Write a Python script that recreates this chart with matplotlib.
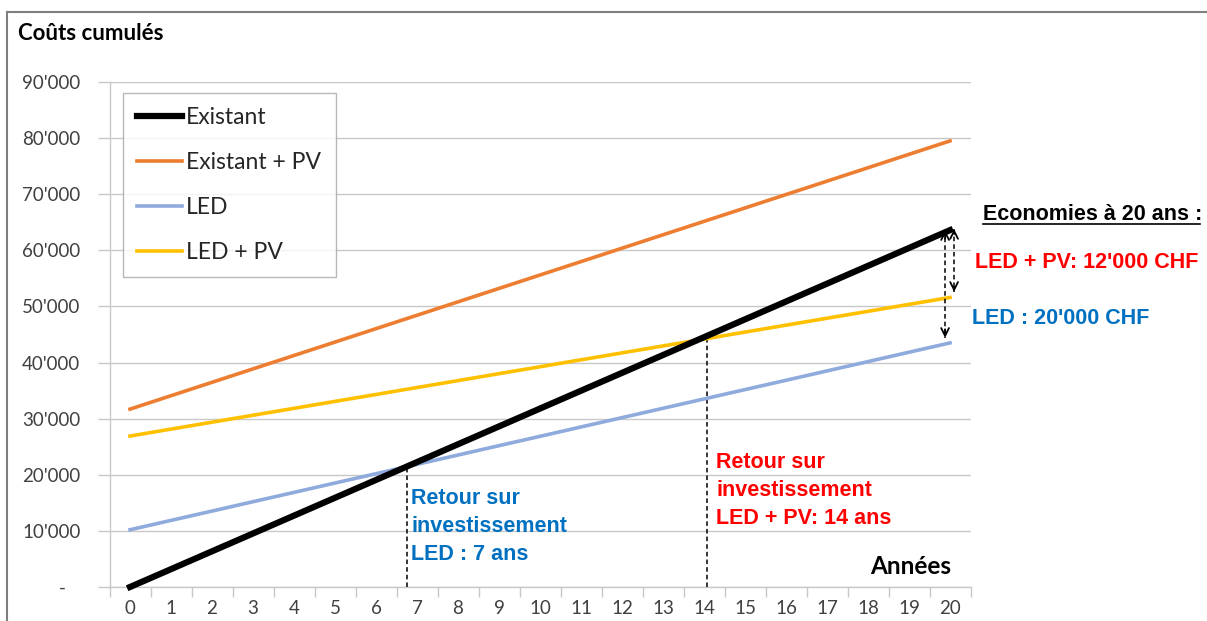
import matplotlib.pyplot as plt
from matplotlib.lines import Line2D

years = list(range(21))
existant = [0, 3180, 6360, 9540, 12720, 15900, 19080, 22260, 25440, 28620, 31800,
            34980, 38160, 41340, 44520, 47700, 50880, 54060, 57240, 60420, 63600]
existant_pv = [31700, 34090, 36480, 38870, 41260, 43650, 46040, 48430, 50820, 53210, 55600,
               57990, 60380, 62770, 65160, 67550, 69940, 72330, 74720, 77110, 79500]
led = [10200, 11870, 13530, 15200, 16860, 18530, 20190, 21860, 23520, 25190, 26850,
       28520, 30180, 31850, 33510, 35180, 36840, 38510, 40170, 41840, 43500]
led_pv = [26900, 28140, 29370, 30610, 31840, 33080, 34310, 35550, 36780, 38020, 39250,
          40490, 41720, 42960, 44190, 45430, 46660, 47900, 49130, 50370, 51600]

y_ticks = [0, 10000, 20000, 30000, 40000, 50000, 60000, 70000, 80000, 90000]
y_labels = ['-   ', "10'000", "20'000", "30'000", "40'000", "50'000",
            "60'000", "70'000", "80'000", "90'000"]

roi_years = [6.75, 14.07]
roi_values = [21400, 44400]

calibri = 'Lato'
arial = 'Liberation Sans'
grid_c = '#c8c8c8'

fig = plt.figure(figsize=(12.07, 6.21), dpi=100)
ax = fig.add_axes([109.5 / 1207, 1 - 587 / 621, (970.5 - 109.5) / 1207, (587 - 82) / 621])

ax.plot(years, existant, color='black', lw=4.5, label='Existant', clip_on=False, zorder=5)
ax.plot(years, existant_pv, color='#ED7D31', lw=2.6, label='Existant + PV', clip_on=False, zorder=4)
ax.plot(years, led, color='#8FAADC', lw=2.6, label='LED', clip_on=False, zorder=4)
ax.plot(years, led_pv, color='#FFC000', lw=2.6, label='LED + PV', clip_on=False, zorder=4)

# payback markers
for xv, yv in zip(roi_years, roi_values):
    ax.plot([xv, xv], [0, yv], color='black', lw=1.1, ls=(0, (3, 2)), zorder=3)

# savings arrows at year 20
def dashed_arrow(x, y0, y1):
    ax.plot([x, x], [y0, y1], color='black', lw=1.1, ls=(0, (3, 2)), clip_on=False, zorder=6)
    for a, b in ((y0, y1), (y1, y0)):
        ax.annotate('', xy=(x, b), xytext=(x, b + (a - b) * 0.08),
                    arrowprops=dict(arrowstyle='->', color='black', lw=1.3,
                                    mutation_scale=14, shrinkA=0, shrinkB=0),
                    annotation_clip=False, zorder=6)

dashed_arrow(19.88, existant[-1], led[-1] + 900)
dashed_arrow(20.1, existant[-1] + 200, led_pv[-1] + 1000)

ax.set_xlim(-0.5, 20.5)
ax.set_ylim(0, 90000)

ax.set_xticks([i - 0.5 for i in range(22)])
ax.set_xticklabels([])
ax.set_xticks(years, minor=True)
ax.set_xticklabels([str(y) for y in years], minor=True, fontfamily=calibri,
                   fontsize=13.5, color='#404040')
ax.tick_params(axis='x', which='major', length=7, width=1, color=grid_c, direction='out')
ax.tick_params(axis='x', which='minor', length=0, pad=9)

ax.set_yticks(y_ticks)
ax.set_yticklabels(y_labels, fontfamily=calibri, fontsize=13.5, color='#404040')
ax.tick_params(axis='y', length=9, width=1, color=grid_c, pad=12)

ax.grid(axis='y', color=grid_c, lw=1)
ax.set_axisbelow(True)
for s in ('top', 'right'):
    ax.spines[s].set_visible(False)
for s in ('left', 'bottom'):
    ax.spines[s].set_color(grid_c)
    ax.spines[s].set_linewidth(1)

leg = ax.legend(loc='upper left', bbox_to_anchor=(123 / 1207, 1 - 93 / 621),
                bbox_transform=fig.transFigure, borderaxespad=0, fancybox=False,
                prop={'family': calibri, 'size': 16.5}, handlelength=1.96,
                handletextpad=0.17, labelspacing=1.04, borderpad=0.63)
leg.get_frame().set_edgecolor('#a6a6a6')
leg.get_frame().set_linewidth(1)
for t in leg.get_texts():
    t.set_color('#262626')

fig.text(18 / 1207, 1 - 33 / 621, 'Coûts cumulés', fontfamily=calibri, fontweight='bold',
         fontsize=16, va='center', ha='left')
fig.text(951 / 1207, 1 - 567 / 621, 'Années', fontfamily=calibri, fontweight='bold',
         fontsize=17.5, va='center', ha='right')

fig.text(983 / 1207, 1 - 215 / 621, 'Economies à 20 ans :', fontfamily=arial,
         fontweight='bold', fontsize=15.5, va='center', ha='left', color='black')
fig.add_artist(Line2D([983 / 1207, 1200 / 1207], [1 - 223.5 / 621] * 2, color='black', lw=1.2))
fig.text(975 / 1207, 1 - 263 / 621, "LED + PV: 12'000 CHF", fontfamily=arial,
         fontweight='bold', fontsize=15.5, va='center', ha='left', color='#FF0000')
fig.text(972 / 1207, 1 - 318 / 621, "LED : 20'000 CHF", fontfamily=arial,
         fontweight='bold', fontsize=15.5, va='center', ha='left', color='#0070C0')

fig.text(411 / 1207, 1 - 488 / 621, 'Retour sur\ninvestissement\nLED : 7 ans',
         fontfamily=arial, fontweight='bold', fontsize=15.5, va='top', ha='left',
         color='#0070C0', linespacing=1.45)
fig.text(716 / 1207, 1 - 452 / 621, 'Retour sur\ninvestissement\nLED + PV: 14 ans',
         fontfamily=arial, fontweight='bold', fontsize=15.5, va='top', ha='left',
         color='#FF0000', linespacing=1.45)

# outer frame
fig.add_artist(Line2D([7 / 1207, 7 / 1207], [0, 1 - 12 / 621], color='#7f7f7f', lw=1.5))
fig.add_artist(Line2D([7 / 1207, 1], [1 - 12 / 621] * 2, color='#7f7f7f', lw=1.5))

fig.savefig('out.png', dpi=100)
